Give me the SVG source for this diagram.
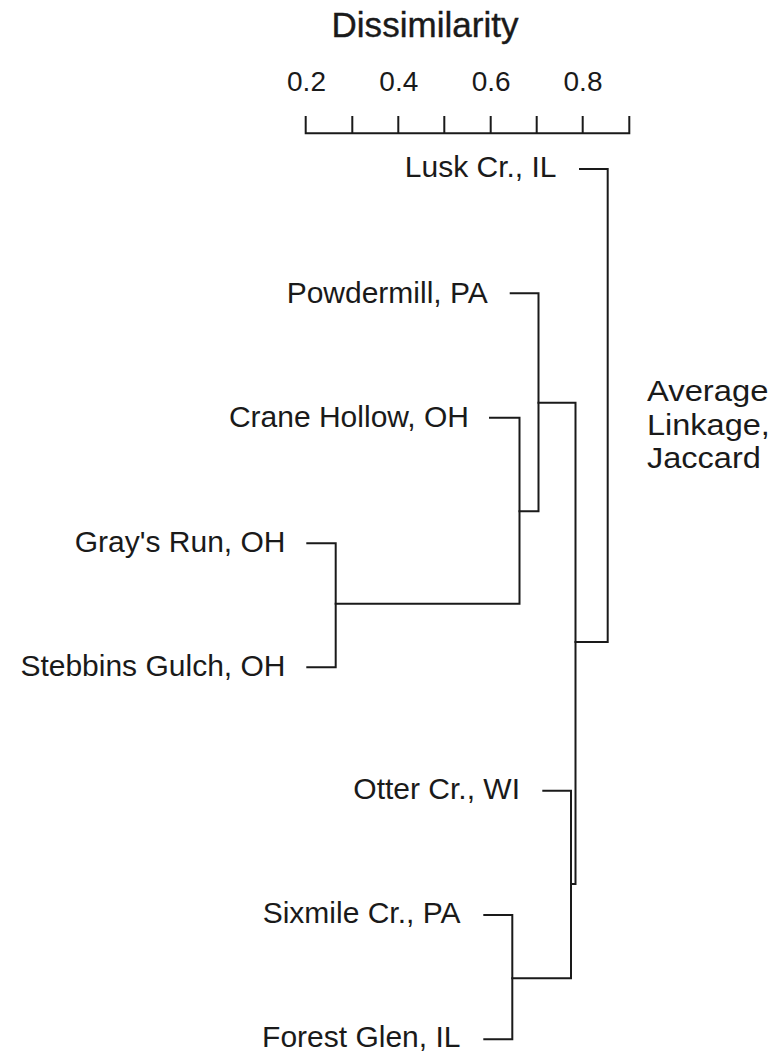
<svg xmlns="http://www.w3.org/2000/svg" width="778" height="1052" viewBox="0 0 778 1052">
<style>
.t{font-family:"Liberation Sans",Arial,sans-serif;fill:#1a1a1a}
.lbl{font-size:30px;text-anchor:end}
.tick{font-size:28px;text-anchor:middle}
.m{font-size:30px}
.ln{stroke:#1a1a1a;stroke-width:2;fill:none;stroke-linecap:square}
</style>
<rect width="778" height="1052" fill="#fff"/>
<g id="title"><text class="t" x="331.5" y="36.7" font-size="35" textLength="187" lengthAdjust="spacing" stroke="#1a1a1a" stroke-width="0.4">Dissimilarity</text></g>
<g id="axis">
<text class="t tick" x="306.5" y="90.7">0.2</text>
<text class="t tick" x="398.8" y="90.7">0.4</text>
<text class="t tick" x="491.2" y="90.7">0.6</text>
<text class="t tick" x="583" y="90.7">0.8</text>
<path class="ln" d="M305.7 117V133.3H629.3V117M352.3 117V133.3M398.3 117V133.3M444.3 117V133.3M490.7 117V133.3M536.7 117V133.3M582.7 117V133.3"/>
</g>
<g id="method">
<text class="t m" x="647" y="401" textLength="121.4" lengthAdjust="spacingAndGlyphs">Average</text>
<text class="t m" x="647" y="434.5" textLength="122.9" lengthAdjust="spacingAndGlyphs">Linkage,</text>
<text class="t m" x="647" y="468" textLength="113.8" lengthAdjust="spacingAndGlyphs">Jaccard</text>
</g>
<g id="lusk"><text class="t lbl" x="556.5" y="176.7">Lusk Cr., IL</text></g>
<g id="powdermill"><text class="t lbl" x="487.8" y="302.7">Powdermill, PA</text></g>
<g id="crane"><text class="t lbl" x="469" y="426.7">Crane Hollow, OH</text></g>
<g id="grays"><text class="t lbl" x="285.5" y="551.7">Gray's Run, OH</text></g>
<g id="stebbins"><text class="t lbl" x="285.5" y="676">Stebbins Gulch, OH</text></g>
<g id="otter"><text class="t lbl" x="520" y="799.3">Otter Cr., WI</text></g>
<g id="sixmile"><text class="t lbl" x="460.5" y="923.3">Sixmile Cr., PA</text></g>
<g id="forest"><text class="t lbl" x="460.5" y="1047.3">Forest Glen, IL</text></g>
<g id="connectors">
<path class="ln" d="M580 169H607.7V642H575.5"/>
<path class="ln" d="M510.7 293.3H538.5V511.3H519.5"/>
<path class="ln" d="M490 417.7H519.5V603.7H335.7"/>
<path class="ln" d="M307.3 543.3H335.7V667.3H307.3"/>
<path class="ln" d="M538.5 402.7H575.5V884H571"/>
<path class="ln" d="M543.3 790.7H571V978.3H512.3"/>
<path class="ln" d="M484.3 915H512.3V1039.3H484.3"/>
</g>
</svg>
